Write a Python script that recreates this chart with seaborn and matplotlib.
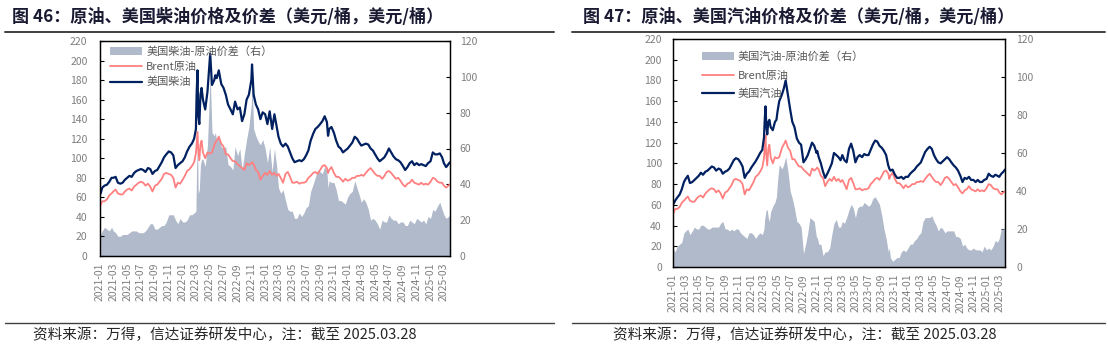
import pandas as pd
import matplotlib
matplotlib.use("Agg")
import matplotlib.pyplot as plt
import matplotlib.dates as mdates
import seaborn as sns
from matplotlib.patches import Patch
from matplotlib.lines import Line2D

# ---------------- data ----------------
dates = [
    "2021-01-04", "2021-01-11", "2021-01-21", "2021-02-01", "2021-02-11", "2021-02-21",
    "2021-03-01", "2021-03-11", "2021-03-21", "2021-04-01", "2021-04-11", "2021-04-21",
    "2021-05-01", "2021-05-11", "2021-05-21", "2021-06-01", "2021-06-11", "2021-06-21",
    "2021-07-01", "2021-07-11", "2021-07-21", "2021-08-01", "2021-08-11", "2021-08-21",
    "2021-09-01", "2021-09-11", "2021-09-21", "2021-10-01", "2021-10-11", "2021-10-21",
    "2021-11-01", "2021-11-11", "2021-11-21", "2021-12-01", "2021-12-11", "2021-12-21",
    "2022-01-01", "2022-01-11", "2022-01-21", "2022-02-01", "2022-02-11", "2022-02-21",
    "2022-03-01", "2022-03-04", "2022-03-08", "2022-03-11", "2022-03-16", "2022-03-21",
    "2022-03-26", "2022-04-01", "2022-04-11", "2022-04-21", "2022-04-28", "2022-05-03",
    "2022-05-11", "2022-05-21", "2022-05-26", "2022-06-01", "2022-06-10", "2022-06-21",
    "2022-07-01", "2022-07-11", "2022-07-21", "2022-08-01", "2022-08-11", "2022-08-21",
    "2022-09-01", "2022-09-11", "2022-09-21", "2022-10-01", "2022-10-11", "2022-10-21",
    "2022-11-01", "2022-11-04", "2022-11-11", "2022-11-21", "2022-12-01", "2022-12-11",
    "2022-12-21", "2023-01-01", "2023-01-11", "2023-01-21", "2023-02-01", "2023-02-11",
    "2023-02-21", "2023-03-01", "2023-03-11", "2023-03-21", "2023-04-01", "2023-04-11",
    "2023-04-21", "2023-05-01", "2023-05-11", "2023-05-21", "2023-06-01", "2023-06-11",
    "2023-06-21", "2023-07-01", "2023-07-11", "2023-07-21", "2023-08-01", "2023-08-11",
    "2023-08-21", "2023-09-01", "2023-09-11", "2023-09-21", "2023-10-01", "2023-10-06",
    "2023-10-11", "2023-10-21", "2023-11-01", "2023-11-11", "2023-11-21", "2023-12-01",
    "2023-12-11", "2023-12-21", "2024-01-01", "2024-01-11", "2024-01-21", "2024-02-01",
    "2024-02-11", "2024-02-21", "2024-03-01", "2024-03-11", "2024-03-21", "2024-04-01",
    "2024-04-11", "2024-04-21", "2024-05-01", "2024-05-11", "2024-05-21", "2024-06-01",
    "2024-06-11", "2024-06-21", "2024-07-01", "2024-07-11", "2024-07-21", "2024-08-01",
    "2024-08-11", "2024-08-21", "2024-09-01", "2024-09-11", "2024-09-21", "2024-10-01",
    "2024-10-11", "2024-10-21", "2024-11-01", "2024-11-11", "2024-11-21", "2024-12-01",
    "2024-12-11", "2024-12-21", "2025-01-01", "2025-01-11", "2025-01-21", "2025-02-01",
    "2025-02-11", "2025-02-21", "2025-03-01", "2025-03-11", "2025-03-21", "2025-03-28",
]

brent = [
    52, 56, 56, 58, 62, 64, 66, 68, 64, 63, 63, 66,
    68, 69, 67, 71, 73, 75, 76, 75, 72, 74, 71, 66,
    72, 73, 76, 79, 84, 85, 84, 83, 80, 70, 75, 74,
    78, 82, 87, 89, 92, 96, 105, 115, 127, 110, 98, 114,
    118, 106, 100, 106, 105, 105, 106, 113, 116, 118, 122, 115,
    112, 104, 104, 100, 97, 97, 94, 92, 90, 88, 95, 93,
    95, 96, 94, 88, 86, 78, 82, 85, 83, 87, 83, 85,
    82, 84, 80, 75, 84, 86, 81, 75, 75, 76, 74, 75,
    75, 76, 80, 82, 85, 86, 84, 88, 92, 93, 90, 85,
    88, 91, 85, 81, 81, 79, 76, 79, 77, 78, 80, 80,
    82, 82, 83, 82, 85, 88, 90, 87, 84, 82, 82, 79,
    82, 86, 87, 85, 82, 79, 80, 77, 73, 71, 74, 75,
    78, 75, 74, 73, 75, 73, 74, 73, 76, 80, 79, 76,
    75, 75, 72, 70, 72, 73,
]

diesel = [
    64, 70, 72, 73, 76, 80, 80, 81, 75, 74, 75, 78,
    80, 82, 81, 85, 87, 88, 89, 88, 86, 90, 89, 84,
    87, 88, 92, 96, 101, 104, 107, 106, 103, 90, 93, 95,
    97, 101, 107, 112, 115, 120, 130, 165, 190, 145, 135, 165,
    172, 160, 150, 168, 190, 207, 175, 180, 185, 182, 190, 176,
    172, 165, 155, 150, 145, 158, 150, 152, 138, 145, 160, 165,
    180, 196, 165, 155, 150, 140, 147, 145, 135, 148, 130, 145,
    132, 122, 115, 112, 115, 112, 106, 100, 96, 97, 98, 97,
    99, 103, 108, 118, 125, 130, 132, 135, 138, 143, 137, 123,
    130, 132, 126, 118, 112, 110, 106, 108, 110, 113, 116, 122,
    120, 116, 113, 114, 115, 114, 110, 108, 104, 100, 97, 99,
    101, 105, 110, 106, 102, 99, 98, 96, 92, 88, 91, 95,
    97, 93, 95, 93, 94, 93, 92, 95, 97, 106, 104, 104,
    105, 101, 95, 91, 94, 96,
]

gasoline = [
    61, 64, 67, 70, 75, 82, 85, 88, 81, 82, 84, 86,
    88, 91, 89, 92, 93, 95, 97, 96, 93, 95, 94, 90,
    92, 93, 95, 99, 103, 105, 104, 101, 97, 86, 90, 92,
    96, 99, 102, 106, 110, 113, 125, 140, 155, 140, 128, 140,
    142, 135, 132, 140, 142, 150, 160, 165, 168, 172, 180, 165,
    152, 140, 135, 124, 120, 118, 101, 104, 108, 114, 120, 117,
    110, 112, 106, 100, 92, 86, 90, 95, 100, 110, 108, 106,
    103, 108, 103, 101, 114, 119, 112, 101, 106, 108, 106, 109,
    108, 108, 113, 118, 122, 121, 117, 115, 112, 108, 98, 95,
    93, 94, 89, 86, 86, 87, 85, 87, 87, 90, 92, 94,
    97, 99, 101, 106, 111, 114, 116, 114, 108, 104, 101, 100,
    102, 104, 106, 104, 101, 98, 96, 93, 88, 82, 86, 85,
    87, 84, 84, 82, 84, 82, 82, 84, 85, 90, 88, 87,
    89, 88, 87, 90, 92, 94,
]

titles = ["图 46：原油、美国柴油价格及价差（美元/桶，美元/桶）",
          "图 47：原油、美国汽油价格及价差（美元/桶，美元/桶）"]
spread_labels = ["美国柴油-原油价差（右）", "美国汽油-原油价差（右）"]
product_labels = ["美国柴油", "美国汽油"]
brent_label = "Brent原油"
source_text = "资料来源：万得，信达证券研发中心，注：截至 2025.03.28"

# ---------------- style ----------------
AREA = "#B0BACB"
RED = "#FF8080"
NAVY = "#002060"
GREY = "#7F7F7F"

sns.set_theme(style="white")
plt.rcParams["font.family"] = ["Noto Sans CJK SC", "DejaVu Sans"]
plt.rcParams["axes.unicode_minus"] = False

W, H = 1108, 348
fig = plt.figure(figsize=(W / 100, H / 100), dpi=100)


def fx(px):
    return px / W


def fy(py):
    return 1 - py / H


def panel(box, product, title, spread_label, product_label, leg_anchor, leg_spacing,
          title_x, line_x, src_x, lpad, rpad):
    x0, y0, x1, y1 = box
    ax = fig.add_axes([fx(x0), fy(y1), fx(x1) - fx(x0), fy(y0) - fy(y1)])
    ax2 = ax.twinx()
    df = pd.DataFrame({"date": pd.to_datetime(dates), "brent": brent, "product": product})
    df["spread"] = df["product"] - df["brent"]

    ax2.fill_between(df["date"], 0, df["spread"], color=AREA, lw=0)
    sns.lineplot(data=df, x="date", y="brent", ax=ax, color=RED, lw=1.3)
    sns.lineplot(data=df, x="date", y="product", ax=ax, color=NAVY, lw=1.6)

    ax.set_zorder(ax2.get_zorder() + 1)
    ax.patch.set_visible(False)

    ax.set_ylim(0, 220)
    ax.set_yticks(range(0, 221, 20))
    ax2.set_ylim(0, 120)
    ax2.set_yticks(range(0, 121, 20))
    ax.set_xlim(pd.Timestamp("2021-01-01"), pd.Timestamp(dates[-1]))
    ax.xaxis.set_major_locator(mdates.MonthLocator(bymonth=[1, 3, 5, 7, 9, 11]))
    ax.xaxis.set_major_formatter(mdates.DateFormatter("%Y-%m"))
    ax.set_xlabel("")
    ax.set_ylabel("")
    ax2.set_ylabel("")

    ax.tick_params(axis="x", direction="in", length=3, width=0.8, colors="black",
                   labelcolor=GREY, labelsize=7.5, rotation=90, pad=5)
    ax.tick_params(axis="y", direction="in", length=3, width=0.8, colors="black",
                   labelcolor=GREY, labelsize=7.5, pad=lpad)
    ax2.tick_params(axis="y", direction="in", length=3, width=0.8, colors="black",
                    labelcolor=GREY, labelsize=7.5, pad=rpad)
    for a in (ax, ax2):
        for s in a.spines.values():
            s.set_visible(True)
            s.set_color("black")
            s.set_linewidth(0.9)
        a.grid(False)

    handles = [Patch(facecolor=AREA, edgecolor="none"),
               Line2D([], [], color=RED, lw=1.3),
               Line2D([], [], color=NAVY, lw=1.6)]
    leg = ax.legend(handles, [spread_label, brent_label, product_label],
                    loc="upper left", bbox_to_anchor=leg_anchor, frameon=False,
                    fontsize=8, handlelength=2.9, handletextpad=0.35,
                    labelspacing=leg_spacing, borderpad=0, borderaxespad=0)
    for t in leg.get_texts():
        t.set_color("#595959")

    # title, rules and source note
    fig.text(fx(title_x), fy(17), title, fontsize=12.3, fontweight="bold",
             color="#1A1A33", ha="left", va="center")
    fig.add_artist(Line2D([fx(line_x[0]), fx(line_x[1])], [fy(31.5), fy(31.5)],
                          transform=fig.transFigure, color="#404040", lw=1.4))
    fig.add_artist(Line2D([fx(line_x[0]), fx(line_x[1])], [fy(323), fy(323)],
                          transform=fig.transFigure, color="#404040", lw=1.0))
    fig.text(fx(src_x), fy(335), source_text, fontsize=10.5, color="#262626",
             ha="left", va="center", style="italic")


panel((100, 41, 450, 256), diesel, titles[0], spread_labels[0], product_labels[0],
      (0.029, 0.975), 0.45, 12, (5, 554), 33, 9, 7)
panel((673, 39, 1005, 267), gasoline, titles[1], spread_labels[1], product_labels[1],
      (0.087, 0.945), 0.75, 583, (572, 1105), 613, 8, 8)

fig.savefig("out.png", dpi=100)
